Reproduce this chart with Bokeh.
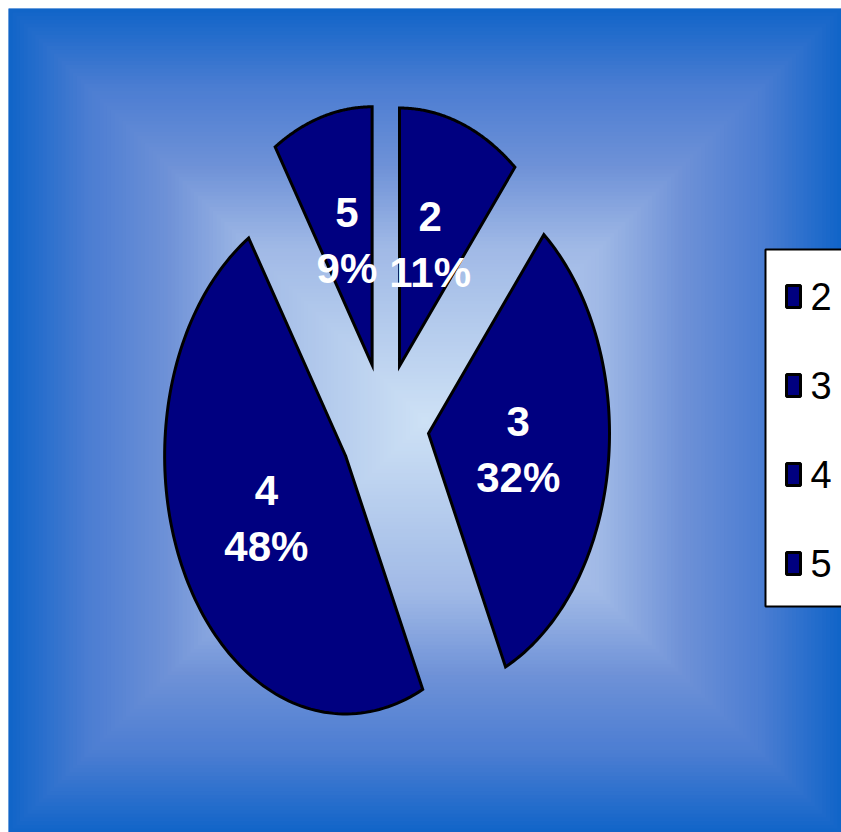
import numpy as np
from bokeh.plotting import figure
from bokeh.models import Range1d
from bokeh.core.properties import value
from bokeh.embed import file_html
from bokeh.resources import INLINE

# ---- data ----
categories = ["2", "3", "4", "5"]
values = [11, 32, 48, 9]
pct_labels = ["11%", "32%", "48%", "9%"]

# ---- layout / style ----
W, H = 841, 832            # figure size
PAD = 8                    # white strip at left/top as in the reference
FW, FH = W - PAD, H - PAD  # chart frame
NAVY = "#000080"
LABEL_FONT = "Liberation Sans"

p = figure(width=W, height=H, x_range=Range1d(0, FW), y_range=Range1d(0, FH),
           output_backend="svg", toolbar_location=None,
           min_border_left=PAD, min_border_top=PAD, min_border_right=0, min_border_bottom=0)
p.axis.visible = False
p.grid.visible = False
p.outline_line_color = None
p.background_fill_color = "#1064c8"
p.border_fill_color = "white"

# ---- rectangular gradient background ----
stops_t = [0.0, 0.42, 0.62, 0.81, 1.0]
stops_c = np.array([(205, 225, 245), (160, 185, 230), (110, 145, 215),
                    (75, 125, 210), (16, 100, 200)], dtype=float)
N = 110
gcx, gcy, hw, hh = FW / 2, FH / 2, FW / 2, FH / 2
ts = np.linspace(1.0, 0.0, N, endpoint=False)
cols = []
for t in ts:
    tm = max(t - 0.5 / N, 0)
    c = [np.interp(tm, stops_t, stops_c[:, k]) for k in range(3)]
    cols.append("#%02x%02x%02x" % tuple(int(round(v)) for v in c))
p.quad(left=gcx - ts * hw, right=gcx + ts * hw, bottom=gcy - ts * hh, top=gcy + ts * hh,
       fill_color=cols, line_color=None)

# ---- exploded elliptical pie ----
cx, cy, rx, ry = 376, 407, 181, 258
explode = 0.245
total = float(sum(values))
xs, ys, lx, ly = [], [], [], []
cum = 0.0
for v in values:
    a0 = cum / total * 2 * np.pi
    a1 = (cum + v) / total * 2 * np.pi
    cum += v
    am = (a0 + a1) / 2
    ox = cx + explode * rx * np.sin(am)
    oy = cy + explode * ry * np.cos(am)
    th = np.linspace(a0, a1, 120)
    xs.append(list(np.concatenate([[ox], ox + rx * np.sin(th)])))
    ys.append(list(np.concatenate([[oy], oy + ry * np.cos(th)])))
    lx.append(ox + 0.5 * rx * np.sin(am))
    ly.append(oy + 0.5 * ry * np.cos(am))

p.patches(xs, ys, fill_color=NAVY, line_color="black", line_width=3, line_join="miter")

lx = np.array(lx)
ly = np.array(ly)
p.text(x=lx, y=ly + 28, text=categories, text_color="white", text_font=value(LABEL_FONT),
       text_font_style="bold", text_font_size="42px", text_align="center", text_baseline="middle")
p.text(x=lx, y=ly - 28, text=pct_labels, text_color="white", text_font=value(LABEL_FONT),
       text_font_style="bold", text_font_size="42px", text_align="center", text_baseline="middle")

# ---- legend ----
p.quad(left=[757], right=[840], top=[583], bottom=[226], fill_color="white",
       line_color="black", line_width=2)
leg_y = 536 - 89 * np.arange(len(categories))
p.rect(x=[785] * len(categories), y=leg_y, width=14, height=22, width_units="screen",
       height_units="screen", fill_color=NAVY, line_color="black", line_width=3)
p.text(x=[802] * len(categories), y=leg_y, text=categories, text_color="black",
       text_font=value(LABEL_FONT), text_font_size="38px", text_align="left",
       text_baseline="middle")

open("out.html", "w").write(file_html(p, INLINE))
